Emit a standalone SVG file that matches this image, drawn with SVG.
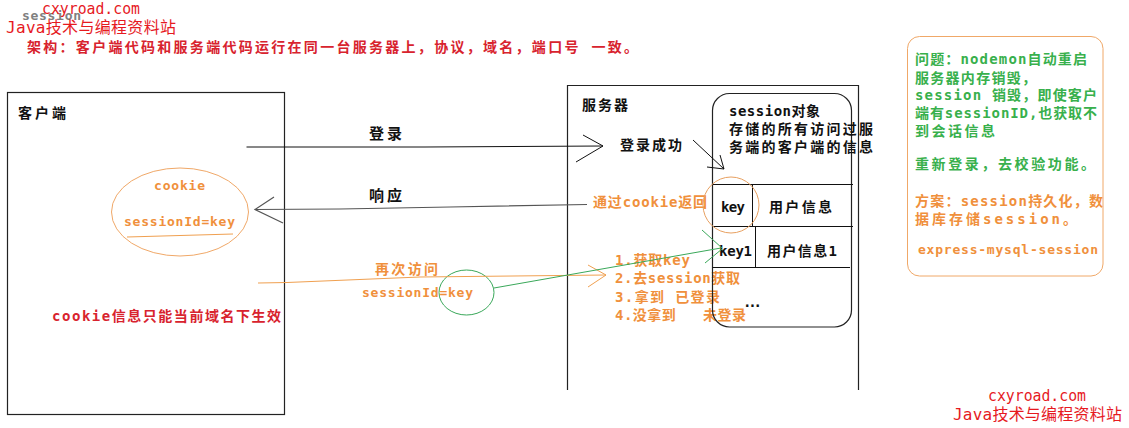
<svg xmlns="http://www.w3.org/2000/svg" width="1129" height="428" viewBox="0 0 1129 428">
<defs>
<style>
.t{font-family:"DejaVu Sans Mono","Noto Sans CJK SC",monospace;font-weight:bold;font-size:14px}
.w{font-family:"DejaVu Sans Mono","Noto Sans CJK SC",monospace;font-weight:normal;font-size:15px;fill:#e61a1f}
.k{fill:#111}
.o{fill:#f0903c}
.g{fill:#38b04c}
.r{fill:#d8232e}
.box{fill:none;stroke:#222;stroke-width:1.2}
.ln{fill:none;stroke:#111;stroke-width:1}
.lg{fill:none;stroke:#555;stroke-width:1.2}
.lo{fill:none;stroke:#f0a050;stroke-width:1}
.lgr{fill:none;stroke:#3aa85a;stroke-width:1}
</style>
</defs>
<rect x="0" y="0" width="1129" height="428" fill="#fff"/>

<g id="header">
<text x="22" y="20" class="t" style="fill:#808080;font-size:13px" textLength="59" lengthAdjust="spacing">session</text>
<text x="42" y="14" class="w" style="font-size:16px" textLength="98" lengthAdjust="spacingAndGlyphs">cxyroad.com</text>
<text x="6" y="33" class="w" style="font-size:16px" textLength="170" lengthAdjust="spacing">Java技术与编程资料站</text>
<text x="27" y="52" class="t r" textLength="611" lengthAdjust="spacing">架构：客户端代码和服务端代码运行在同一台服务器上，协议，域名，端口号 一致。</text>
</g>

<g id="client">
<rect x="7.5" y="92.5" width="277" height="322" class="box"/>
<text x="18" y="118" class="t k" textLength="48" lengthAdjust="spacing">客户端</text>
<text x="52" y="321" class="t r" textLength="229" lengthAdjust="spacing">cookie信息只能当前域名下生效</text>
</g>

<g id="cookie">
<ellipse cx="180" cy="212" rx="68.5" ry="44" fill="none" stroke="#f0a868" stroke-width="1"/>
<text x="154" y="190" class="t o" style="font-size:13px" textLength="51" lengthAdjust="spacing">cookie</text>
<text x="124" y="226" class="t o" style="font-size:13px" textLength="111" lengthAdjust="spacing">sessionId=key</text>
<path d="M127,237 L233,234" class="lo"/>
</g>

<g id="server">
<path d="M567.5,390 V85.5 H858.5 V390" class="box"/>
<text x="582" y="110" class="t k" textLength="46" lengthAdjust="spacing">服务器</text>
<text x="620" y="150" class="t k" textLength="62" lengthAdjust="spacing">登录成功</text>
<text x="593" y="207" class="t o" textLength="114" lengthAdjust="spacing">通过cookie返回</text>
<text x="615" y="265" class="t o" textLength="75" lengthAdjust="spacing">1.获取key</text>
<text x="615" y="283" class="t o" textLength="125" lengthAdjust="spacing">2.去session获取</text>
<text x="615" y="302" class="t o" xml:space="preserve" textLength="105" lengthAdjust="spacing">3.拿到 已登录</text>
<text x="615" y="320" class="t o" xml:space="preserve" textLength="131" lengthAdjust="spacing">4.没拿到   未登录</text>
</g>

<g id="session">
<rect x="712.5" y="93.5" width="139" height="233.5" rx="17" ry="17" class="box"/>
<text x="729" y="116" class="t k" textLength="91" lengthAdjust="spacing">session对象</text>
<text x="729" y="134" class="t k" textLength="144" lengthAdjust="spacing">存储的所有访问过服</text>
<text x="729" y="152" class="t k" textLength="144" lengthAdjust="spacing">务端的客户端的信息</text>
<path d="M712.5,184.5 H853 M712.5,226.5 H853 M712.5,267.5 H850 M752.5,184.5 V226.5 M755.5,226.5 V267.5" class="ln"/>
<text x="721" y="212" class="t k" textLength="24" lengthAdjust="spacing">key</text>
<text x="769" y="212" class="t k" textLength="63" lengthAdjust="spacing">用户信息</text>
<text x="719" y="256" class="t k" textLength="33" lengthAdjust="spacing">key1</text>
<text x="767" y="256" class="t k" textLength="70" lengthAdjust="spacing">用户信息1</text>
<text x="743" y="307" class="t k" textLength="19" lengthAdjust="spacing">...</text>
<circle cx="731" cy="205" r="28" fill="none" stroke="#e8a060" stroke-width="1"/>
</g>

<g id="note">
<rect x="907.5" y="36.5" width="195.5" height="239.5" rx="12" ry="12" fill="none" stroke="#f0a868" stroke-width="1"/>
<text x="915" y="64" class="t g" textLength="172" lengthAdjust="spacing">问题：nodemon自动重启</text>
<text x="915" y="83" class="t g" textLength="121" lengthAdjust="spacing">服务器内存销毁，</text>
<text x="915" y="100" class="t g" textLength="182" lengthAdjust="spacing">session 销毁，即使客户</text>
<text x="915" y="118" class="t g" textLength="182" lengthAdjust="spacing">端有sessionID,也获取不</text>
<text x="915" y="136" class="t g" textLength="80" lengthAdjust="spacing">到会话信息</text>
<text x="915" y="169" class="t g" textLength="180" lengthAdjust="spacing">重新登录，去校验功能。</text>
<text x="915" y="206" class="t o" textLength="188" lengthAdjust="spacing">方案：session持久化，数</text>
<text x="915" y="224" class="t o" textLength="162" lengthAdjust="spacing">据库存储session。</text>
<text x="918" y="254" class="t o" style="font-size:13px" textLength="180" lengthAdjust="spacing">express-mysql-session</text>
</g>

<g id="revisit">
<text x="375" y="274" class="t o" textLength="63" lengthAdjust="spacing">再次访问</text>
<text x="362" y="297" class="t o" style="font-size:13px" textLength="111" lengthAdjust="spacing">sessionId=key</text>
<ellipse cx="466.5" cy="292.5" rx="27.5" ry="22.5" class="lgr"/>
</g>

<g id="connectors">
<polyline points="246.5,147 425,147 603,146" class="ln"/>
<path d="M583,135 L603,146 L576,162" class="ln"/>
<text x="369" y="139" class="t k" style="font-size:15px" textLength="33" lengthAdjust="spacing">登录</text>
<polyline points="255,209.5 340,209 450,207 587,204.5" class="lg"/>
<path d="M274,197 L255,209.5 L283,223" class="lg"/>
<text x="369" y="201" class="t k" style="font-size:15px" textLength="33" lengthAdjust="spacing">响应</text>
<path d="M693,140 L724,169 M720,155 L724,169 L707,167" class="ln"/>
<polyline points="258,283 287,282.5 420,277 606,275" class="lo"/>
<path d="M588,265 L606,275 L588,287" class="lo"/>
<path d="M494,288 L721,248 M702,230 L722,248 M705,263 L722,249" class="lgr"/>
</g>

<g id="footer">
<text x="988" y="401" class="w" style="font-size:16px" textLength="98" lengthAdjust="spacingAndGlyphs">cxyroad.com</text>
<text x="953" y="420" class="w" style="font-size:16px" textLength="169" lengthAdjust="spacing">Java技术与编程资料站</text>
</g>
</svg>
